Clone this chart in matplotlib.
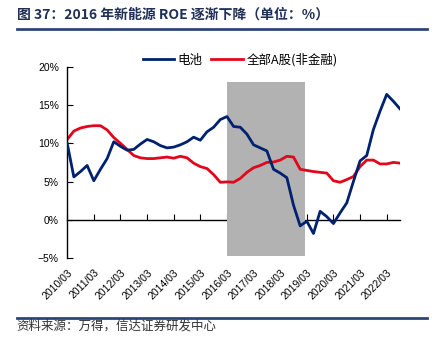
import numpy as np
import matplotlib.pyplot as plt
from matplotlib.lines import Line2D

plt.rcParams['font.family'] = ['Liberation Sans', 'Noto Sans CJK SC', 'DejaVu Sans']

# quarterly data 2010Q1 .. 2022Q3
battery = [10.0, 5.6, 6.3, 7.1, 5.1, 6.6, 8.0, 10.2, 9.6, 9.1, 9.2, 9.9, 10.5, 10.2,
           9.7, 9.4, 9.5, 9.8, 10.2, 10.8, 10.4, 11.5, 12.1, 13.1, 13.5, 12.2, 12.1,
           11.2, 9.8, 9.4, 9.0, 6.6, 6.1, 5.5, 1.9, -0.8, -0.2, -1.8, 1.1, 0.4, -0.5,
           0.9, 2.2, 5.0, 7.7, 8.4, 11.8, 14.2, 16.4, 15.5, 14.5]
all_a = [10.5, 11.6, 12.0, 12.2, 12.3, 12.3, 11.75, 10.75, 10.0, 9.2, 8.4, 8.1, 8.0,
         8.0, 8.1, 8.2, 8.05, 8.3, 8.1, 7.4, 6.95, 6.7, 5.9, 4.9, 4.95, 4.9, 5.4, 6.2,
         6.8, 7.1, 7.5, 7.55, 7.8, 8.3, 8.2, 6.6, 6.45, 6.3, 6.2, 6.1, 5.1, 4.9, 5.25,
         5.65, 6.95, 7.8, 7.8, 7.3, 7.3, 7.5, 7.4]
tick_labels = ['2010/03', '2011/03', '2012/03', '2013/03', '2014/03', '2015/03', '2016/03',
               '2017/03', '2018/03', '2019/03', '2020/03', '2021/03', '2022/03']
shade_start, shade_end = 24, 35.8
shade_low, shade_high = -4.7, 18.0

blue = '#002170'
red = '#E2061B'
navy = '#2B4677'

x = np.arange(len(battery))

fig = plt.figure(figsize=(4.42, 3.5), dpi=100)
ax = fig.add_axes([0.152, 0.263, 0.753, 0.546])

ax.fill_between([shade_start, shade_end], shade_low, shade_high, color='#B2B2B2', lw=0, zorder=1)
ax.plot(x, battery, color=blue, lw=2, zorder=3)
ax.plot(x, all_a, color=red, lw=2, zorder=2)

ax.set_xlim(0, len(battery) - 1)
ax.set_ylim(-5, 20)
ax.set_yticks([-5, 0, 5, 10, 15, 20])
ax.set_yticklabels(['\u22125%', '0%', '5%', '10%', '15%', '20%'])
ax.tick_params(axis='y', direction='in', length=4, labelsize=7.5, pad=6)

xt = np.arange(0, len(battery), 4)
ax.set_xticks(xt)
ax.set_xticklabels(tick_labels, rotation=45, ha='right', rotation_mode='anchor')
ax.tick_params(axis='x', length=0, labelsize=7.5, pad=7)

for s in ['top', 'right', 'bottom']:
    ax.spines[s].set_visible(False)
ax.spines['left'].set_linewidth(1)

# zero line with tick marks
sec = ax.secondary_xaxis(0.2)
sec.set_xticks(xt)
sec.set_xticklabels([])
sec.tick_params(direction='in', length=4, width=0.8)
sec.spines['bottom'].set_linewidth(1)

# legend
handles = [Line2D([], [], color=blue, lw=2), Line2D([], [], color=red, lw=2)]
fig.legend(handles, ['电池', '全部A股(非金融)'], loc='center', bbox_to_anchor=(0.543, 0.829),
           ncol=2, frameon=False, handlelength=2.5, columnspacing=0.7,
           handletextpad=0.3, prop={'family': ['Noto Sans CJK SC'], 'size': 9})

# title and source
fig.text(0.038, 0.958, '图 37：2016 年新能源 ROE 逐渐下降（单位：%）', fontsize=10,
         fontweight='bold', color='#1F2F55', family=['Noto Sans CJK SC'], va='center')
fig.add_artist(Line2D([0.038, 0.966], [0.917, 0.917], color=navy, lw=2))
fig.add_artist(Line2D([0.038, 0.966], [0.091, 0.091], color=navy, lw=2))
fig.text(0.038, 0.068, '资料来源：万得，信达证券研发中心', fontsize=9, color='#333333',
         family=['Noto Sans CJK SC'], va='center')

fig.savefig('out.png', dpi=100)
